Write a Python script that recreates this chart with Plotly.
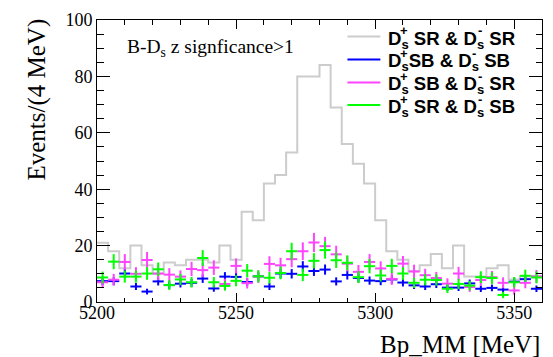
import numpy as np
import plotly.graph_objects as go

# Binning: 40 bins of 4 MeV from 5200 to 5360 MeV
bin_lo = 5200.0
bin_width = 4.0
n_bins = 40

# D_s+ SR & D_s- SR (signal region, drawn as histogram)
sr_sr = [21, 18, 12, 20, 13, 10, 14, 13, 15, 15,
         14, 20, 15, 32, 29, 42, 45, 53, 80, 80,
         84, 69, 56, 49, 42, 29, 18, 15, 11, 13,
         17, 12, 20, 9, 9, 12, 13, 8, 9, 9]

# D_s+ SB & D_s- SB
sb_sb = [7.4, 7.4, 10.1, 5.5, 3.7, 7.3, 6.0, 6.5, 6.8, 8.3,
         4.8, 9.0, 8.9, 7.1, 9.1, 5.5, 10.1, 10.0, 12.6, 11.0,
         11.5, 7.3, 9.6, 8.5, 7.6, 7.4, 8.0, 6.9, 5.9, 5.5,
         6.3, 5.1, 5.1, 6.6, 4.7, 5.0, 4.4, 7.2, 8.1, 4.7]

# D_s+ SB & D_s- SR
sb_sr = [7.0, 7.9, 14.2, 10.0, 14.9, 10.1, 9.7, 9.0, 11.7, 11.3,
         12.2, 6.4, 12.8, 6.7, 9.0, 13.5, 13.0, 15.2, 18.0, 21.1,
         19.8, 16.9, 13.6, 10.7, 14.2, 11.9, 8.2, 13.6, 10.8, 9.5,
         8.5, 6.5, 10.1, 5.3, 7.8, 8.8, 6.8, 4.1, 6.8, 9.1]

# D_s+ SR & D_s- SB
sr_sb = [8.7, 14.3, 9.0, 9.0, 10.1, 11.6, 6.0, 8.0, 7.0, 15.6,
         7.0, 5.7, 7.5, 11.1, 9.1, 8.6, 10.3, 18.0, 9.6, 14.6,
         18.4, 14.8, 13.9, 8.8, 12.7, 9.4, 12.8, 10.1, 6.8, 7.9,
         7.8, 4.7, 6.4, 5.8, 8.8, 8.5, 2.5, 7.0, 9.3, 8.7]

# per-event weights of the sideband samples (error = sqrt(sum w^2))
w_sb_sb = 0.28
w_sb_sr = 0.55
w_sr_sb = 0.5

# legend rows: (first region, second region, gap after D_s+, colour)
GRAY = "#cccccc"
BLUE = "#0000ff"
MAGENTA = "#ff44ff"
GREEN = "#00ff00"
legend_rows = [("SR", "SR", True, GRAY),
               ("SB", "SB", False, BLUE),
               ("SB", "SR", True, MAGENTA),
               ("SR", "SB", True, GREEN)]

edges = bin_lo + bin_width * np.arange(n_bins + 1)
centers = 0.5 * (edges[:-1] + edges[1:])

fig = go.Figure()

# step histogram
fig.add_trace(go.Scatter(
    x=edges, y=list(sr_sr) + [sr_sr[-1]],
    mode="lines", line=dict(color=GRAY, width=2, shape="hv"),
    showlegend=False, hoverinfo="skip"))


def add_points(vals, weight, color):
    vals = np.asarray(vals, dtype=float)
    fig.add_trace(go.Scatter(
        x=centers, y=vals, mode="markers",
        marker=dict(size=1, color=color, opacity=0),
        error_x=dict(type="constant", value=bin_width / 2, width=0,
                     thickness=2, color=color),
        error_y=dict(type="data", array=np.sqrt(weight * vals), width=0,
                     thickness=2, color=color),
        showlegend=False))


add_points(sb_sb, w_sb_sb, BLUE)
add_points(sb_sr, w_sb_sr, MAGENTA)
add_points(sr_sb, w_sr_sb, GREEN)

# ---- layout geometry (pixels) ----
W, H = 553, 357
ML, MR, MT, MB = 97, 10, 13, 55
PW, PH = W - ML - MR, H - MT - MB


def px_x(px):
    return (px - ML) / PW


def px_y(py):
    return (H - MB - py) / PH


serif = "Liberation Serif"
sans = "Liberation Sans"
annotations = [
    dict(text="B-D<sub>s</sub> z signficance>1", x=0.062, y=0.9,
         xref="paper", yref="paper", xanchor="left", yanchor="middle",
         showarrow=False, font=dict(family=serif, size=19.5, color="black")),
    dict(text="Events/(4 MeV)", x=-0.135, y=1.012, textangle=-90,
         xref="paper", yref="paper", xanchor="center", yanchor="top",
         showarrow=False, font=dict(family=serif, size=25, color="black")),
    dict(text="Bp_MM [MeV]", x=1.0, y=-0.15,
         xref="paper", yref="paper", xanchor="right", yanchor="middle",
         showarrow=False, font=dict(family=serif, size=25, color="black")),
]
shapes = []

# hand-built legend with stacked D_s charge labels
key_x0, key_x1, text_x = 348, 381, 388
row_y = [30, 53.5, 77, 100]
fs = 18.6
d_w = 0.722 * fs          # bold "D"
s_w = 0.556 * fs * 0.7    # subscript "s"
sp_w = 0.278 * fs
reg_w = 0.667 * fs + 0.722 * fs   # "SR" / "SB"
amp_w = 0.722 * fs
for (r1, r2, gap, color), ry in zip(legend_rows, row_y):
    shapes.append(dict(type="line", xref="paper", yref="paper",
                       x0=px_x(key_x0), x1=px_x(key_x1),
                       y0=px_y(ry), y1=px_y(ry),
                       line=dict(color=color, width=2)))
    sep = " " if gap else ""
    label = f"D<sub>s</sub>{sep}{r1} & D<sub>s</sub> {r2}"
    annotations.append(dict(
        text=label, x=px_x(text_x - 1), y=px_y(ry + 3),
        xref="paper", yref="paper", xanchor="left", yanchor="middle",
        showarrow=False,
        font=dict(family=sans, size=fs, color="black", weight="bold")))
    x_plus = text_x + d_w + s_w / 2
    x_minus = (text_x + d_w + s_w + (sp_w if gap else 0) + reg_w
               + 2 * sp_w + amp_w + d_w + s_w / 2)
    for sx, sym in ((x_plus, "+"), (x_minus, "-")):
        annotations.append(dict(
            text=sym, x=px_x(sx), y=px_y(ry - 6),
            xref="paper", yref="paper", xanchor="center", yanchor="middle",
            showarrow=False,
            font=dict(family=sans, size=13, color="black", weight="bold")))

fig.update_layout(
    width=W, height=H,
    margin=dict(l=ML, r=MR, t=MT, b=MB),
    paper_bgcolor="white", plot_bgcolor="white",
    showlegend=False,
    annotations=annotations, shapes=shapes,
)

fig.update_xaxes(
    range=[5200, 5360], showgrid=False, zeroline=False,
    showline=True, linecolor="black", linewidth=1, mirror="allticks",
    ticks="inside", ticklen=9, tickwidth=1, tickcolor="black",
    tickmode="array", tickvals=[5200, 5250, 5300, 5350],
    ticklabelstandoff=-6,
    minor=dict(ticks="inside", ticklen=4.5, dtick=10, tickcolor="black",
               showgrid=False),
    tickfont=dict(family=serif, size=18, color="black"))

fig.update_yaxes(
    range=[0, 100], showgrid=False, zeroline=False,
    showline=True, linecolor="black", linewidth=1, mirror="allticks",
    ticks="inside", ticklen=13, tickwidth=1, tickcolor="black",
    dtick=20, tick0=0,
    minor=dict(ticks="inside", ticklen=6.5, dtick=5, tickcolor="black",
               showgrid=False),
    tickfont=dict(family=serif, size=18, color="black"))

fig.write_html("out.html")
